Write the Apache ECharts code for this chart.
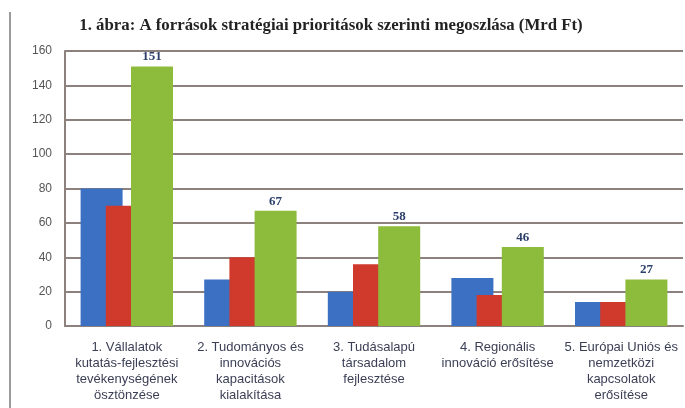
<!DOCTYPE html>
<html>
<head>
<meta charset="utf-8">
<script src="https://cdn.jsdelivr.net/npm/echarts@6/dist/echarts.min.js"></script>
<style>
  html, body { margin: 0; padding: 0; background: #fff; }
  #chart { width: 685px; height: 408px; }
</style>
</head>
<body>
<div id="chart"></div>
<script>
// kategóriák (stratégiai prioritások)
var categories = [
    '1. Vállalatok\nkutatás-fejlesztési\ntevékenységének\nösztönzése',
    '2. Tudományos és\ninnovációs\nkapacitások\nkialakítása',
    '3. Tudásalapú\ntársadalom\nfejlesztése',
    '4. Regionális\ninnováció erősítése',
    '5. Európai Uniós és\nnemzetközi\nkapcsolatok\nerősítése'
];

// értékek, Mrd Ft
var blueValues = [80, 27, 20, 28, 14];
var redValues = [70, 40, 36, 18, 14];
var greenValues = [151, 67, 58, 46, 27];

var yTicks = [0, 20, 40, 60, 80, 100, 120, 140, 160];

var gridColor = '#8c817c';

var chart = echarts.init(document.getElementById('chart'));

var options = {
    animation: false,
    backgroundColor: '#fff',
    title: {
        text: '1. ábra: A források stratégiai prioritások szerinti megoszlása (Mrd Ft)',
        left: 326,
        top: 12,
        textAlign: 'center',
        textStyle: {
            fontFamily: 'Liberation Serif',
            fontSize: 16.8,
            fontWeight: 'bold',
            color: '#222'
        }
    },
    graphic: [{
        type: 'line',
        shape: { x1: 10, y1: 12, x2: 10, y2: 408 },
        style: { stroke: '#7a7a7a', lineWidth: 1.5 }
    }],
    grid: {
        left: 65,
        right: 2,
        top: 51,
        bottom: 82
    },
    xAxis: {
        type: 'category',
        data: categories,
        axisLine: {
            show: true,
            lineStyle: { color: gridColor, width: 2 }
        },
        axisTick: { show: false },
        axisLabel: {
            interval: 0,
            margin: 13,
            fontFamily: 'Liberation Sans Narrow, Liberation Sans',
            fontSize: 13,
            lineHeight: 16,
            color: '#3a3f55'
        }
    },
    yAxis: {
        type: 'value',
        min: yTicks[0],
        max: yTicks[yTicks.length - 1],
        interval: 20,
        axisLine: {
            show: true,
            lineStyle: { color: gridColor, width: 2 }
        },
        axisTick: { show: false },
        axisLabel: {
            margin: 13,
            fontFamily: 'Liberation Sans',
            fontSize: 12,
            color: '#555'
        },
        splitLine: {
            show: true,
            lineStyle: { color: gridColor, width: 2 }
        }
    },
    series: [{
        name: 'kék',
        type: 'bar',
        data: blueValues,
        barWidth: 42,
        barGap: '-40%',
        itemStyle: { color: '#3c70c2' }
    }, {
        name: 'piros',
        type: 'bar',
        data: redValues,
        barWidth: 42,
        barGap: '-40%',
        itemStyle: { color: '#cf3a2c' }
    }, {
        name: 'zöld',
        type: 'bar',
        data: greenValues,
        barWidth: 42,
        barGap: '-40%',
        itemStyle: { color: '#8dbb3c' },
        label: {
            show: true,
            position: 'top',
            distance: 3,
            fontFamily: 'Liberation Serif',
            fontSize: 13,
            fontWeight: 'bold',
            color: '#2b3f6a'
        }
    }]
};

chart.setOption(options);
</script>
</body>
</html>
